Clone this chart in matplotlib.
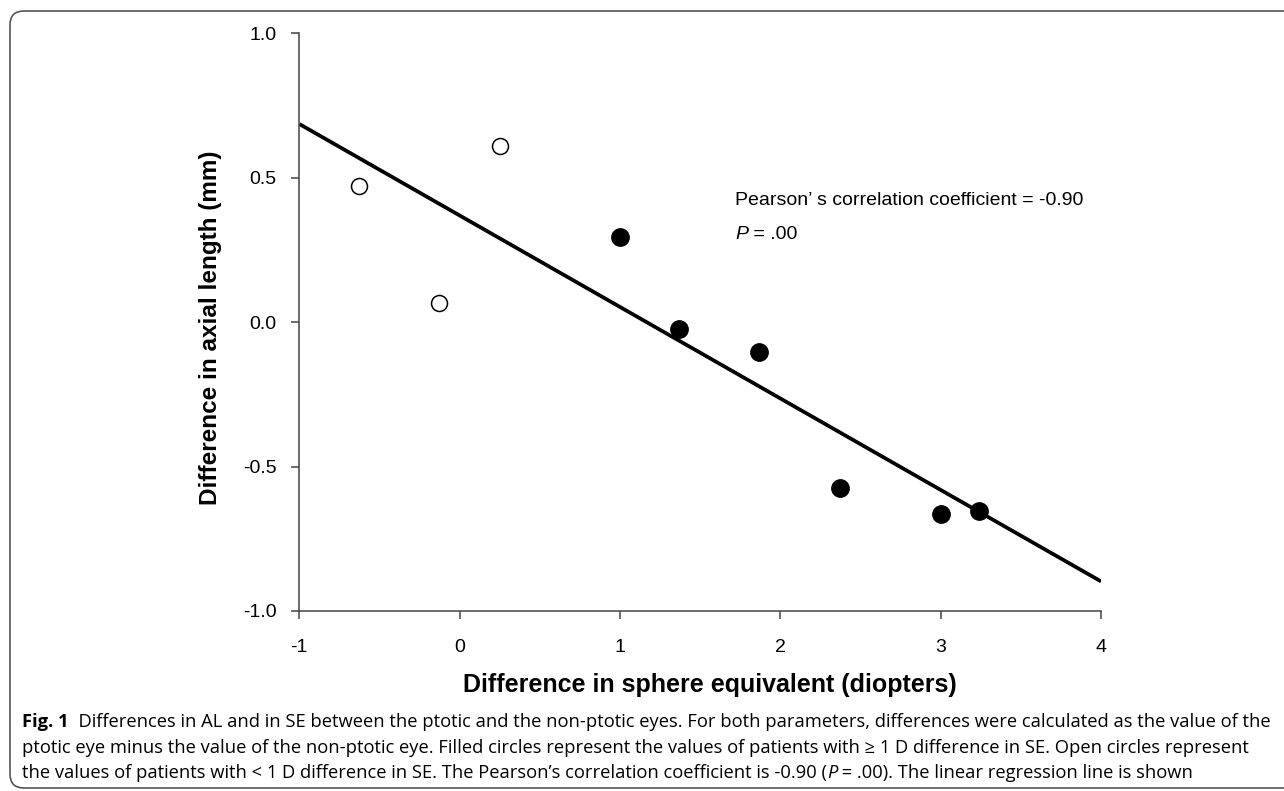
import numpy as np
import matplotlib.pyplot as plt
from matplotlib.patches import FancyBboxPatch
from matplotlib.text import Annotation
from matplotlib.transforms import IdentityTransform

plt.rcParams['font.family'] = ['Liberation Sans', 'DejaVu Sans']
plt.rcParams['axes.unicode_minus'] = False

# Difference in SE (diopters) vs difference in AL (mm)
se_open = [-0.63, -0.13, 0.25]           # < 1 D difference in SE
al_open = [0.47, 0.065, 0.61]
se_filled = [1.0, 1.37, 1.87, 2.37, 3.0, 3.24]   # >= 1 D difference in SE
al_filled = [0.295, -0.025, -0.105, -0.575, -0.665, -0.655]

x_ticks = [-1, 0, 1, 2, 3, 4]
y_ticks = [-1.0, -0.5, 0.0, 0.5, 1.0]
y_ticklabels = ['-1.0', '-0.5', '0.0', '0.5', '1.0']

pearson_r = '-0.90'
p_value = '.00'

fig = plt.figure(figsize=(12.84, 7.91), dpi=100)
ax = fig.add_axes([0.2331, 0.2276, 0.6244, 0.7303])

# linear regression line over the whole x range
all_x = np.array(se_open + se_filled)
all_y = np.array(al_open + al_filled)
slope, icpt = np.polyfit(all_x, all_y, 1)
xl = np.array([x_ticks[0], x_ticks[-1]])
ax.plot(xl, slope * xl + icpt, color='black', lw=2.7, solid_capstyle='butt')

ax.plot(se_open, al_open, 'o', ms=11.5, mfc='white', mec='black', mew=1.1, clip_on=False)
ax.plot(se_filled, al_filled, 'o', ms=12.5, color='black', clip_on=False)

ax.set_xlim(-1, 4)
ax.set_ylim(-1, 1)
ax.set_xticks(x_ticks)
ax.set_yticks(y_ticks)
ax.set_yticklabels(y_ticklabels)
for s in ['top', 'right']:
    ax.spines[s].set_visible(False)
for s in ['left', 'bottom']:
    ax.spines[s].set_color('#444444')
    ax.spines[s].set_linewidth(1.1)
ax.tick_params(direction='out', length=5.8, width=1.1, color='#444444', labelsize=14)
ax.tick_params(axis='x', pad=14.5)
ax.tick_params(axis='y', pad=10.5)

ax.set_xlabel('Difference in sphere equivalent (diopters)', fontsize=18, fontweight='bold')
ax.set_ylabel('Difference in axial length (mm)', fontsize=17.5, fontweight='bold')
ax.xaxis.set_label_coords(0.512, -0.107)
ax.yaxis.set_label_coords(-0.096, 0.49)


def chain(pieces, x, y, size, family, transform):
    # pieces: (text, weight, style); each one placed right after the previous
    txt, w, st = pieces[0]
    t = fig.text(x, y, txt, fontsize=size, family=family, fontweight=w,
                 fontstyle=st, va='baseline', transform=transform)
    for txt, w, st in pieces[1:]:
        a = Annotation(txt, xy=(1, 0), xycoords=t, va='bottom', ha='left',
                       fontsize=size, family=family, fontweight=w, fontstyle=st)
        fig.add_artist(a)
        t = a
    return t


# correlation note inside the plot
chain([("Pearson\u2019 s correlation coefficient = " + pearson_r, 'normal', 'normal')],
      1.72, 0.405, 14, ['Liberation Sans'], ax.transData)
chain([("P", 'normal', 'italic'), (" = " + p_value, 'normal', 'normal')],
      1.72, 0.288, 14, ['Liberation Sans'], ax.transData)

# caption
cap_font = ['Open Sans', 'DejaVu Sans']
cap_size = 13.2
cap_x = 22 / 1284
chain([("Fig. 1", 'bold', 'normal'),
       ("  Differences in AL and in SE between the ptotic and the non-ptotic eyes. "
        "For both parameters, differences were calculated as the value of the", 'normal', 'normal')],
      cap_x, 1 - 727 / 791, cap_size, cap_font, fig.transFigure)
chain([("ptotic eye minus the value of the non-ptotic eye. Filled circles represent the values "
        "of patients with \u2265 1 D difference in SE. Open circles represent", 'normal', 'normal')],
      cap_x, 1 - 753 / 791, cap_size, cap_font, fig.transFigure)
chain([("the values of patients with < 1 D difference in SE. The Pearson\u2019s correlation "
        "coefficient is " + pearson_r + " (", 'normal', 'normal'),
       ("P", 'normal', 'italic'),
       (" = " + p_value + "). The linear regression line is shown", 'normal', 'normal')],
      cap_x, 1 - 778 / 791, cap_size, cap_font, fig.transFigure)

# rounded frame around the figure
frame = FancyBboxPatch((10, 3), 1400, 777, boxstyle='round,pad=0,rounding_size=14',
                       transform=IdentityTransform(), fill=False, ec='#555555', lw=1.2)
fig.add_artist(frame)

fig.savefig('out.png', dpi=100)
